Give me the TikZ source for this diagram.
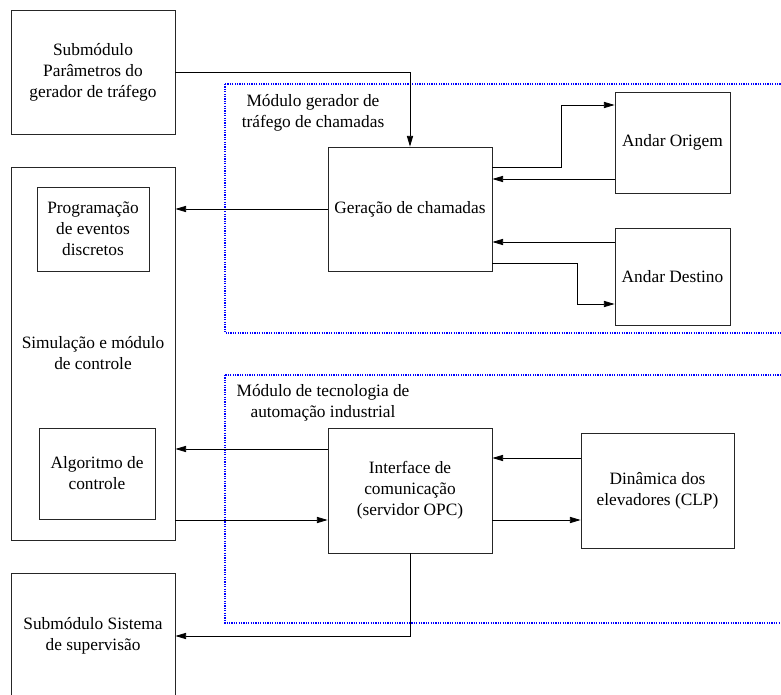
\documentclass[tikz,border=0pt]{standalone}
\usepackage{fontspec}
\setmainfont{Liberation Serif}
\usetikzlibrary{arrows.meta}

\begin{document}
\begin{tikzpicture}[x=0.75pt, y=-0.75pt,
		blk/.style={draw=black!85, line width=0.6pt, inner sep=0pt, align=center, font=\fontsize{13pt}{15.75pt}\selectfont},
		lbl/.style={inner sep=0pt, align=center, font=\fontsize{13pt}{15.75pt}\selectfont},
		arr/.style={line width=0.6pt, -{Triangle[length=8pt, width=4.6pt]}},
		modbox/.style={draw=blue, line width=0.9pt, dash pattern=on 0.9pt off 0.9pt}]
		%%%%% START %%%%%
		
		\useasboundingbox (0, 0) rectangle (781, 695);
		
		\draw[modbox] (225, 84) rectangle (795, 333);
		\draw[modbox] (225, 375) rectangle (795, 623);
		\node[lbl] (modger) at (313, 113) {Módulo gerador de\\tráfego de chamadas};
		\node[lbl] (modaut) at (323, 403) {Módulo de tecnologia de\\automação industrial};
		
		\node[blk, minimum width=123pt, minimum height=93pt] (param) at (93, 72) {Submódulo\\Parâmetros do\\gerador de tráfego};
		\node[blk, minimum width=123pt, minimum height=279.75pt] (sim) at (93, 353.5) {Simulação e módulo\\de controle};
		\node[blk, minimum width=84pt, minimum height=63pt] (prog) at (93, 229) {Programação\\de eventos\\discretos};
		\node[blk, minimum width=87pt, minimum height=68.25pt] (algo) at (97, 473.5) {Algoritmo de\\controle};
		\node[blk, minimum width=123pt, minimum height=94.5pt] (sup) at (93, 636) {Submódulo Sistema\\de supervisão};
		
		\node[blk, minimum width=123pt, minimum height=93pt] (ger) at (410, 209) {Geração de chamadas};
		\node[blk, minimum width=86.25pt, minimum height=75.75pt] (orig) at (672.5, 142.5) {Andar Origem};
		\node[blk, minimum width=86.25pt, minimum height=72.75pt] (dest) at (672.5, 276.5) {Andar Destino};
		
		\node[blk, minimum width=123pt, minimum height=93.75pt] (intf) at (410, 490.5) {Interface de\\comunicação\\(servidor OPC)};
		\node[blk, minimum width=114.75pt, minimum height=86.25pt] (din) at (657.5, 490.5) {Dinâmica dos\\elevadores (CLP)};
		
		% gerador de trafego
		\draw[arr] (param.east) -| (ger.north);
		\draw[arr] (ger.west) -- (sim.east |- ger.west);
		\draw[arr] (ger.east |- 0,167) -- (561, 167) |- (orig.west |- 0,105);
		\draw[arr] (orig.west |- 0,179) -- (ger.east |- 0,179);
		\draw[arr] (dest.west |- 0,242) -- (ger.east |- 0,242);
		\draw[arr] (ger.east |- 0,263) -- (577, 263) |- (dest.west |- 0,304);
		
		% automacao
		\draw[arr] (intf.west |- 0,449) -- (sim.east |- 0,449);
		\draw[arr] (sim.east |- 0,520) -- (intf.west |- 0,520);
		\draw[arr] (din.west |- 0,458) -- (intf.east |- 0,458);
		\draw[arr] (intf.east |- 0,520) -- (din.west |- 0,520);
		\draw[arr] (intf.south) |- (sup.east);
		
		%%%%% END %%%%%
\end{tikzpicture}
\end{document}
